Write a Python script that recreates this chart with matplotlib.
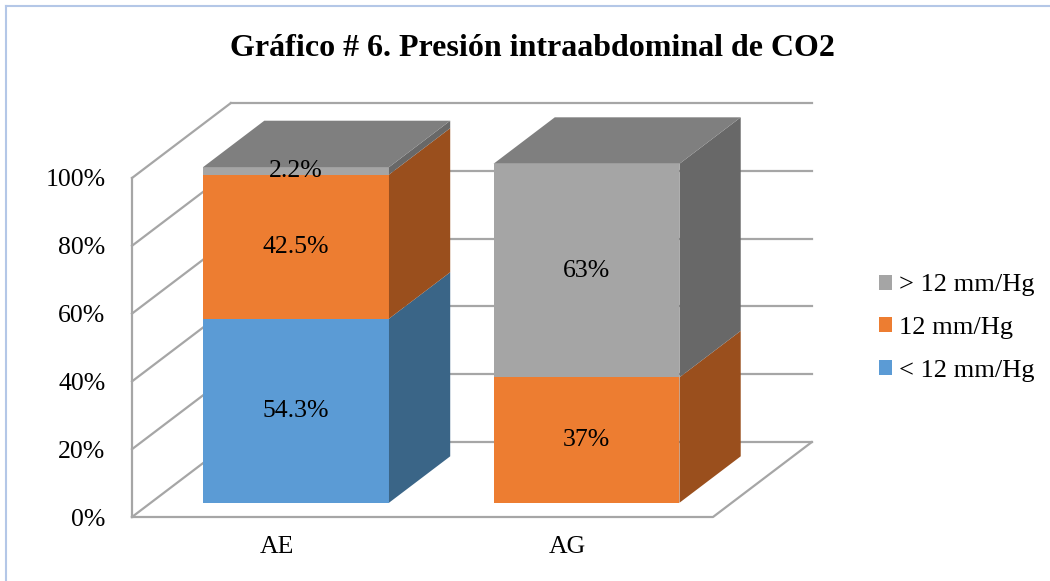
import matplotlib.pyplot as plt
from matplotlib.patches import Polygon, Patch
from matplotlib.lines import Line2D

categories = ['AE', 'AG']
series_names = ['< 12 mm/Hg', '12 mm/Hg', '> 12 mm/Hg']
values = {
    '< 12 mm/Hg': [54.3, 0.0],
    '12 mm/Hg': [42.5, 37.0],
    '> 12 mm/Hg': [2.2, 63.0],
}
labels = {
    '< 12 mm/Hg': ['54.3%', ''],
    '12 mm/Hg': ['42.5%', '37%'],
    '> 12 mm/Hg': ['2.2%', '63%'],
}
yticks = [0, 20, 40, 60, 80, 100]
ytick_labels = ['0%', '20%', '40%', '60%', '80%', '100%']

front = {'< 12 mm/Hg': '#5B9BD5', '12 mm/Hg': '#ED7D31', '> 12 mm/Hg': '#A5A5A5'}
side = {'< 12 mm/Hg': '#3A6587', '12 mm/Hg': '#9A4F1D', '> 12 mm/Hg': '#686868'}
top = {'< 12 mm/Hg': '#4A7DAB', '12 mm/Hg': '#BE6428', '> 12 mm/Hg': '#7F7F7F'}

plt.rcParams['font.family'] = ['Liberation Serif', 'DejaVu Serif']

W, H = 1050, 581
fig = plt.figure(figsize=(W / 100, H / 100), dpi=100)
# axes placed so that the front floor edge / front wall match the reference
ax = fig.add_axes([132 / W, (H - 517) / H, 581 / W, 339 / H])
ax.set_xlim(0, 2)
ax.set_ylim(0, 100)
for s in ax.spines.values():
    s.set_visible(False)

DX = 0.34     # depth offset in x units
DY = 22.1     # depth offset in y units
d0, d1 = 0.19, 0.81  # bar depth range (fraction of full depth)
width = 0.64
grid_c = '#A6A6A6'
lw = 1.6

# walls / gridlines
for y in yticks:
    ax.add_line(Line2D([0, DX], [y, y + DY], color=grid_c, lw=lw, clip_on=False))
    ax.add_line(Line2D([DX, 2 + DX], [y + DY, y + DY], color=grid_c, lw=lw, clip_on=False))
ax.add_line(Line2D([0, 0], [0, 100], color=grid_c, lw=lw, clip_on=False))
ax.add_line(Line2D([0, 2, 2 + DX], [0, 0, DY], color=grid_c, lw=lw, clip_on=False))

# bars
for i, cat in enumerate(categories):
    cx = i + 0.5
    x0 = cx - width / 2 + d0 * DX
    x1 = cx + width / 2 + d0 * DX
    ddx = (d1 - d0) * DX
    ddy = (d1 - d0) * DY
    yb = d0 * DY
    bottom = 0.0
    last = None
    for name in series_names:
        v = values[name][i]
        if v <= 0:
            continue
        ya, yt = yb + bottom, yb + bottom + v
        ax.add_patch(Polygon([(x0, ya), (x1, ya), (x1, yt), (x0, yt)],
                             closed=True, fc=front[name], ec='none', clip_on=False, zorder=3))
        ax.add_patch(Polygon([(x1, ya), (x1 + ddx, ya + ddy), (x1 + ddx, yt + ddy), (x1, yt)],
                             closed=True, fc=side[name], ec='none', clip_on=False, zorder=3))
        if labels[name][i]:
            ax.text((x0 + x1) / 2, (ya + yt) / 2, labels[name][i], ha='center', va='center',
                    fontsize=18.5, zorder=5)
        bottom += v
        last = (name, yt)
    name, yt = last
    ax.add_patch(Polygon([(x0, yt), (x1, yt), (x1 + ddx, yt + ddy), (x0 + ddx, yt + ddy)],
                         closed=True, fc=top[name], ec='none', clip_on=False, zorder=3))

ax.set_yticks(yticks)
ax.set_yticklabels(ytick_labels, fontsize=18.5)
ax.set_xticks([0.5, 1.5])
ax.set_xticklabels(categories, fontsize=18.5)
ax.tick_params(axis='y', length=0, pad=19)
ax.tick_params(axis='x', length=0, pad=14)

fig.text(532 / W, 1 - 48 / H, 'Gráfico # 6. Presión intraabdominal de CO2',
         ha='center', va='center', fontsize=23, fontweight='bold')

handles = [Patch(fc=front[n], ec='none', label=n) for n in reversed(series_names)]
fig.legend(handles=handles, loc='center left', bbox_to_anchor=(855 / W, 1 - 328 / H),
           frameon=False, fontsize=19, handlelength=0.5, handleheight=0.5,
           handletextpad=0.25, labelspacing=0.78)

# chart border (top and left visible)
fig.add_artist(Line2D([6 / W, 1], [1 - 6 / H, 1 - 6 / H], color='#B4C7E7', lw=1.5))
fig.add_artist(Line2D([6 / W, 6 / W], [0, 1 - 6 / H], color='#B4C7E7', lw=1.5))

fig.savefig('out.png', dpi=100)
